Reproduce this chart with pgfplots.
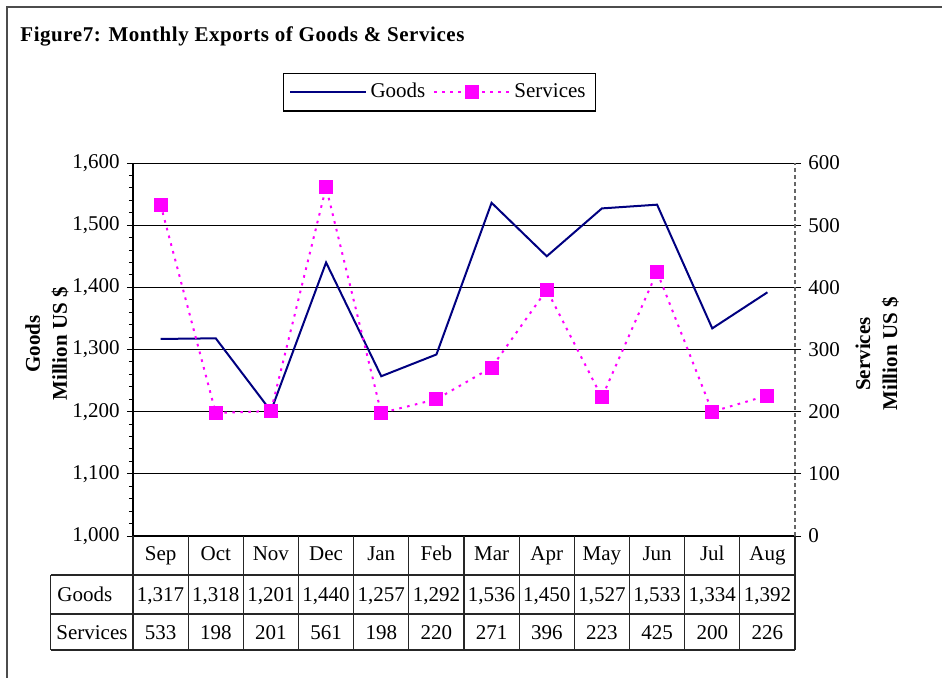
\documentclass[border=0pt]{standalone}
\usepackage{fontspec}
\setmainfont{Liberation Serif}
\usepackage{pgfplots}
\pgfplotsset{compat=1.18}
\usepackage{pgfplotstable}

\pgfplotstableread{
idx goods services
0  1317 533
1  1318 198
2  1201 201
3  1440 561
4  1257 198
5  1292 220
6  1536 271
7  1450 396
8  1527 223
9  1533 425
10 1334 200
11 1392 226
}\exports

\definecolor{goodsblue}{RGB}{0,0,128}
\definecolor{servmag}{RGB}{255,0,255}

\pgfplotsset{
  servstyle/.style={servmag, line width=1pt, dash pattern=on 1.3pt off 2.7pt,
    mark=square*, mark size=3pt, mark options={solid, fill=servmag, draw=servmag}},
  common/.style={width=331pt, height=186.5pt, scale only axis,
    at={(0,0)}, anchor=south west,
    xmin=-0.5, xmax=11.5, xtick=\empty, clip=false,
    /pgf/number format/assume math mode=true,
    /pgf/number format/1000 sep={,},
    ticklabel style={font=\fontsize{10.5}{12}\selectfont},
    tick align=outside, major tick length=3pt, minor tick length=2pt,
    tick style={black, line width=0.5pt},
    ylabel style={font=\fontsize{10.5}{13.5}\selectfont\bfseries, align=center, anchor=center}},
}

\begin{document}
\fontsize{10.5}{13.5}\selectfont
\begin{tikzpicture}
\useasboundingbox (-66.5pt,-70.5pt) rectangle (404.5pt,268pt);
\draw[line width=0.8pt, black!70] (-63pt,-71pt) -- (-63pt,264.5pt) -- (405pt,264.5pt);
\node[anchor=base west, inner sep=0pt, font=\bfseries\addfontfeature{LetterSpace=2.6}] at (-56.5pt,247.5pt)
  {Figure7: Monthly Exports of Goods \& Services};

% goods, left axis
\begin{axis}[common,
  ymin=1000, ymax=1600, ytick distance=100, minor y tick num=4,
  axis y line*=left, axis x line*=bottom,
  axis line style={black, line width=0.6pt, -},
  ymajorgrids, grid style={black, line width=0.5pt},
  ylabel={Goods\\Million US \$},
  ylabel style={at={(axis description cs:-0.130,0.515)}},
  legend style={at={(axis description cs:0.463,1.190)}, anchor=center,
    legend columns=2, draw=black, line width=0.6pt,
    font=\fontsize{10.5}{12}\selectfont, inner sep=3pt,
    /tikz/every even column/.append style={column sep=2pt}},
  legend image code/.code={\draw[mark repeat=2, mark phase=2, #1]
    plot coordinates {(0cm,0cm) (0.66cm,0cm) (1.32cm,0cm)};},
]
\addplot[goodsblue, line width=1pt] table[x=idx, y=goods] {\exports};
\addlegendentry{Goods}
\addlegendimage{servstyle}
\addlegendentry{Services}
\end{axis}

% services, right axis
\begin{axis}[common,
  ymin=0, ymax=600, ytick distance=100,
  axis y line*=right, axis x line=none,
  y axis line style={black!60, dash pattern=on 2pt off 1.5pt, line width=0.6pt, -},
  ylabel={Services\\Million US \$},
  ylabel style={at={(axis description cs:1.124,0.488)}},
]
\addplot[servstyle] table[x=idx, y=services] {\exports};
\end{axis}

% data table under the plot
\begin{scope}[line width=0.6pt, black!85]
\foreach \i in {0,...,12} \draw ({\i*27.5833pt},0pt) -- ({\i*27.5833pt},-57pt);
\draw (-41.2pt,-19.5pt) -- (331pt,-19.5pt);
\draw (-41.2pt,-39pt) -- (331pt,-39pt);
\draw (-41.2pt,-57pt) -- (331pt,-57pt);
\draw (-41.2pt,-19.5pt) -- (-41.2pt,-57pt);
\end{scope}
\foreach \m [count=\i from 0] in {Sep,Oct,Nov,Dec,Jan,Feb,Mar,Apr,May,Jun,Jul,Aug}
  \node[anchor=base, inner sep=0pt] at ({(\i+0.5)*27.5833pt},-12pt) {\m};
\foreach \v [count=\i from 0] in {{1,317},{1,318},{1,201},{1,440},{1,257},{1,292},{1,536},{1,450},{1,527},{1,533},{1,334},{1,392}}
  \node[anchor=base, inner sep=0pt] at ({(\i+0.5)*27.5833pt},-32.8pt) {\v};
\foreach \v [count=\i from 0] in {533,198,201,561,198,220,271,396,223,425,200,226}
  \node[anchor=base, inner sep=0pt] at ({(\i+0.5)*27.5833pt},-51.5pt) {\v};
\node[anchor=base west, inner sep=0pt] at (-38pt,-32.8pt) {Goods};
\node[anchor=base west, inner sep=0pt] at (-38.5pt,-51.5pt) {Services};
\end{tikzpicture}
\end{document}
